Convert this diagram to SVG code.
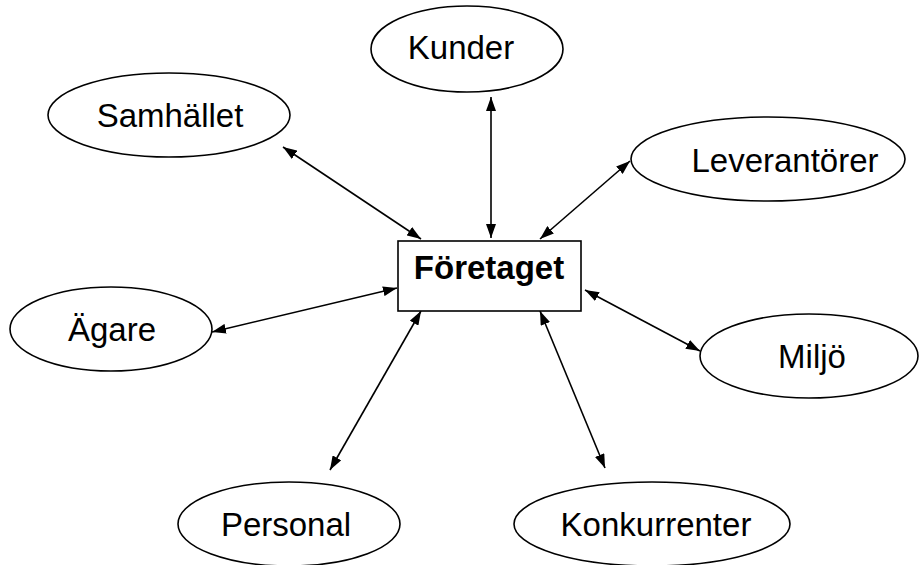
<svg xmlns="http://www.w3.org/2000/svg" width="920" height="565" viewBox="0 0 920 565">
<defs>
<marker id="ah" viewBox="0 0 14 10" refX="14" refY="5" markerWidth="14" markerHeight="10" markerUnits="userSpaceOnUse" orient="auto-start-reverse">
<path d="M0,0 L14,5 L0,10 Z" fill="#000"/>
</marker>
<style>
.n ellipse, .n rect { fill: #fff; stroke: #000; stroke-width: 1.6; }
.n text { font-family: "Liberation Sans", Arial, sans-serif; font-size: 33px; fill: #000; text-anchor: middle; }
.b text { font-weight: bold; }
.c line { stroke: #000; stroke-width: 1.6; marker-start: url(#ah); marker-end: url(#ah); }
</style>
</defs>
<rect width="920" height="565" fill="#fff"/>
<g class="c" id="connectors">
<line x1="491" y1="97" x2="491" y2="238"/>
<line x1="283" y1="147" x2="421" y2="239"/>
<line x1="630" y1="161" x2="540" y2="239"/>
<line x1="212" y1="332" x2="397" y2="288"/>
<line x1="700" y1="351" x2="585" y2="290"/>
<line x1="330" y1="470" x2="421" y2="311"/>
<line x1="605" y1="468" x2="540" y2="311"/>
</g>
<g class="n" id="kunder"><ellipse cx="467" cy="49" rx="96" ry="43"/><text x="461" y="59">Kunder</text></g>
<g class="n" id="samhallet"><ellipse cx="169" cy="115" rx="121" ry="42"/><text x="170" y="127">Samhället</text></g>
<g class="n" id="leverantorer"><ellipse cx="768" cy="159" rx="137" ry="42"/><text x="785" y="172">Leverantörer</text></g>
<g class="n" id="agare"><ellipse cx="111" cy="329" rx="101" ry="42"/><text x="112" y="341">Ägare</text></g>
<g class="n" id="miljo"><ellipse cx="809" cy="356" rx="109" ry="42"/><text x="812" y="368">Miljö</text></g>
<g class="n" id="personal"><ellipse cx="289" cy="524" rx="111" ry="42"/><text x="286" y="536">Personal</text></g>
<g class="n" id="konkurrenter"><ellipse cx="652" cy="524" rx="138" ry="42"/><text x="656" y="536">Konkurrenter</text></g>
<g class="n b" id="foretaget"><rect x="398" y="241" width="183" height="70"/><text x="489" y="279">Företaget</text></g>
</svg>
